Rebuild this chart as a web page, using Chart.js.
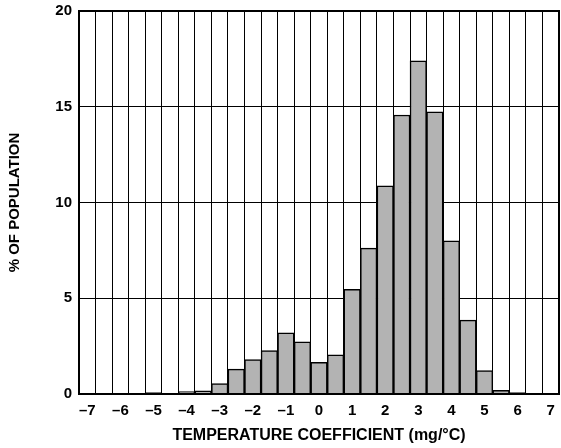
<!DOCTYPE html>
<html>
<head>
<meta charset="utf-8">
<script src="https://cdn.jsdelivr.net/npm/chart.js@4"></script>
<style>
  html, body { margin: 0; padding: 0; background: #fff; }
  #wrap { width: 561px; height: 448px; }
</style>
</head>
<body>
<div id="wrap"><canvas id="histChart"></canvas></div>
<script>
// bin centres, mg/°C (0.5 wide bins)
const bins = [-7, -6.5, -6, -5.5, -5, -4.5, -4, -3.5, -3, -2.5, -2, -1.5, -1, -0.5,
  0, 0.5, 1, 1.5, 2, 2.5, 3, 3.5, 4, 4.5, 5, 5.5, 6, 6.5, 7];

// % of population in each bin
const percent = [0, 0, 0, 0, 0.07, 0, 0.12, 0.16, 0.55, 1.3, 1.8, 2.27, 3.2, 2.72,
  1.65, 2.05, 5.47, 7.62, 10.87, 14.57, 17.4, 14.73, 8.0, 3.86, 1.22, 0.19, 0.07, 0, 0];

const yTicks = [0, 5, 10, 15, 20];

// only the whole numbers get a label, with a dash for minus
const binLabels = bins.map(b => Number.isInteger(b) ? String(b).replace('-', '\u2013') : '');

const FONT = "'Liberation Sans', Arial, sans-serif";

const ctx = document.getElementById('histChart').getContext('2d');
new Chart(ctx, {
  type: 'bar',
  data: {
    labels: binLabels,
    datasets: [{
      data: percent,
      backgroundColor: '#b3b3b3',
      borderColor: '#000',
      borderWidth: 1.5,
      barPercentage: 1,
      categoryPercentage: 1
    }]
  },
  options: {
    responsive: true,
    maintainAspectRatio: false,
    animation: false,
    layout: { padding: { top: 11, right: 2, left: 0, bottom: 0 } },
    plugins: {
      legend: { display: false },
      tooltip: { enabled: false }
    },
    scales: {
      x: {
        offset: true,
        grid: { color: '#000', lineWidth: 1, drawTicks: false, offset: true },
        border: { color: '#000', width: 2 },
        ticks: {
          autoSkip: false,
          maxRotation: 0,
          padding: 8,
          color: '#000',
          font: { family: FONT, size: 15, weight: 'bold' }
        },
        title: {
          display: true,
          text: 'TEMPERATURE COEFFICIENT (mg/°C)',
          color: '#000',
          font: { family: FONT, size: 16, weight: 'bold' },
          padding: { top: 0, bottom: 3 }
        },
        afterFit: function(scale) {
          scale.height = 54;
          scale.paddingLeft = 0;
          scale.paddingRight = 0;
        }
      },
      y: {
        min: 0,
        max: 20,
        afterBuildTicks: function(scale) {
          scale.ticks = yTicks.map(v => ({ value: v }));
        },
        grid: { color: '#000', lineWidth: 1, drawTicks: false },
        border: { color: '#000', width: 2 },
        ticks: {
          padding: 7,
          color: '#000',
          font: { family: FONT, size: 15, weight: 'bold' }
        },
        title: {
          display: true,
          text: '% OF POPULATION',
          color: '#000',
          font: { family: FONT, size: 15, weight: 'bold' },
          padding: { top: 6, bottom: 0 }
        },
        afterFit: function(scale) {
          scale.width = 79;
          scale.paddingTop = 0;
          scale.paddingBottom = 0;
        }
      }
    }
  },
  plugins: [{
    // outer frame drawn on top so the right and top edges are heavy too
    id: 'frame',
    afterDraw(chart) {
      const a = chart.chartArea;
      const c = chart.ctx;
      c.save();
      c.strokeStyle = '#000';
      c.lineWidth = 2;
      c.strokeRect(a.left, a.top, a.right - a.left, a.bottom - a.top);
      c.restore();
    }
  }]
});
</script>
</body>
</html>
